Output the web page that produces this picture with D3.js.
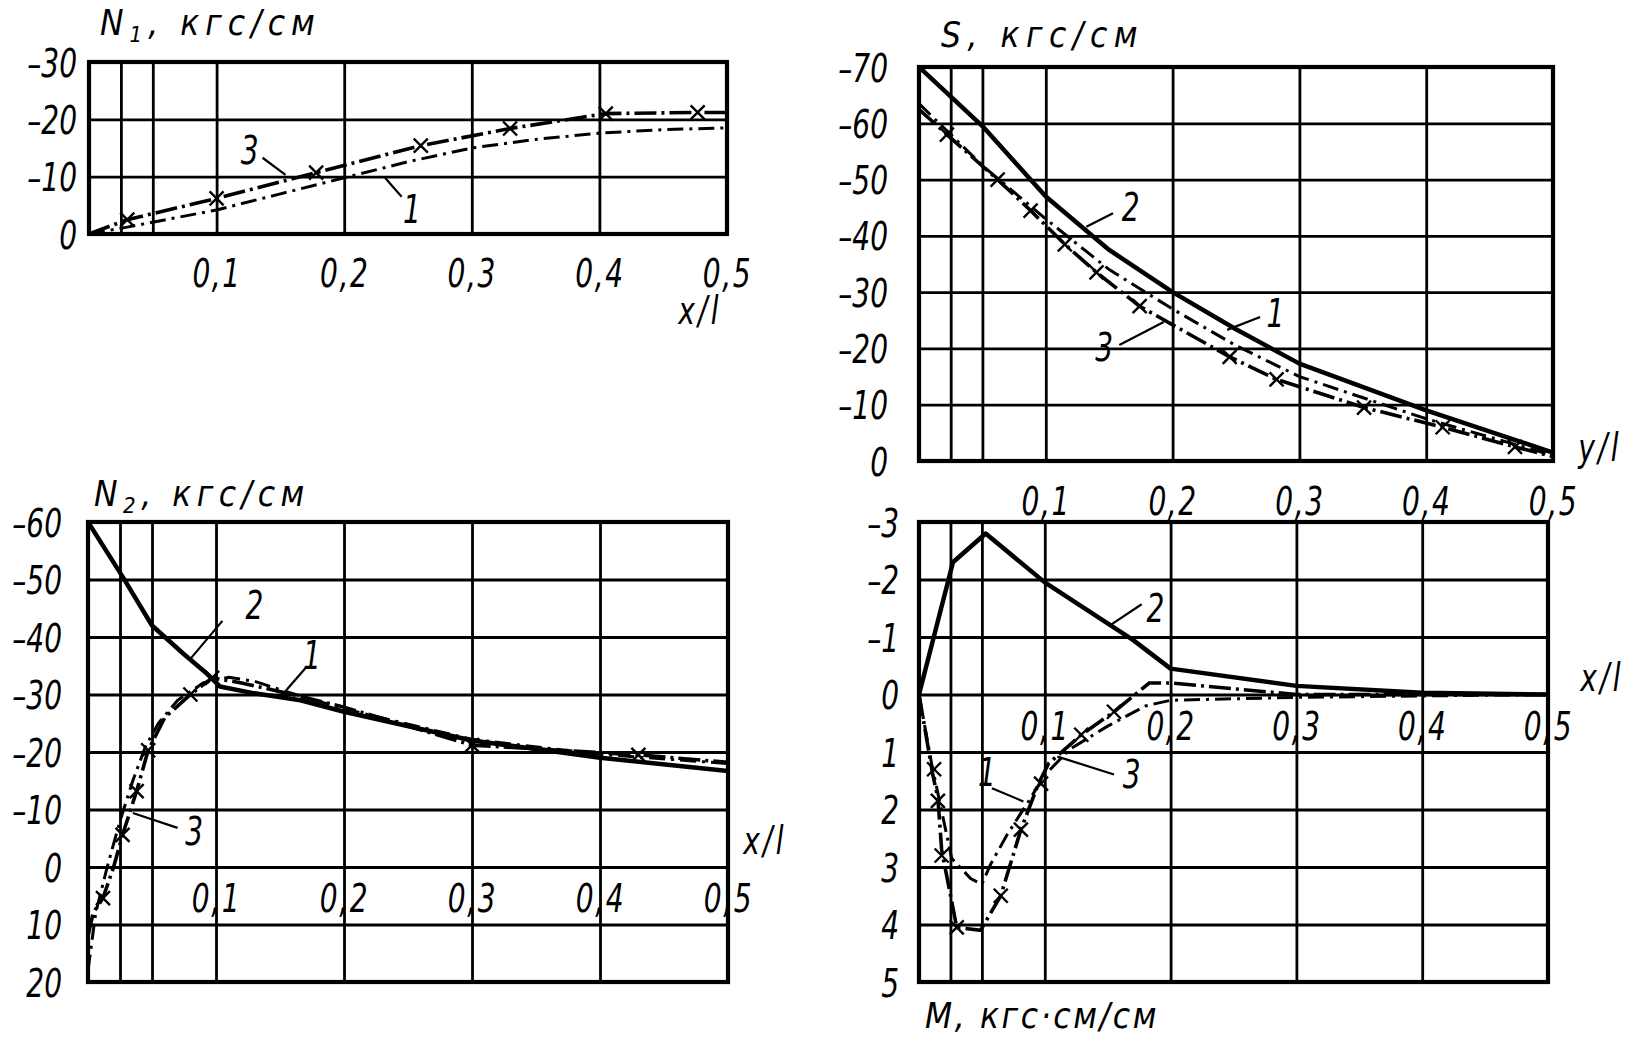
<!DOCTYPE html>
<html><head><meta charset="utf-8">
<script src="https://cdn.jsdelivr.net/npm/d3@7"></script>
<style>
body{margin:0;background:#fff}
svg{display:block}
text{font-family:"Liberation Sans Narrow","DejaVu Sans Condensed","Liberation Sans",sans-serif;font-style:italic;fill:#000}
</style>
</head><body>
<svg id="c" width="1639" height="1041"></svg>
<script>
// ---------- shared axis data ----------
const xTicks = [0.1, 0.2, 0.3, 0.4, 0.5];
const xTickLabels = ["0,1", "0,2", "0,3", "0,4", "0,5"];
const xGrid = [0, 0.025, 0.05, 0.1, 0.2, 0.3, 0.4, 0.5];

// ---------- N1 panel ----------
const n1YTicks = [-30, -20, -10, 0];
const n1YLabels = ["–30", "–20", "–10", "0"];
const n1X1 = [0, 0.03, 0.1, 0.15, 0.2, 0.25, 0.3, 0.35, 0.4, 0.45, 0.5];
const n1Y1 = [0, -1.2, -4.2, -7, -9.8, -12.6, -15, -16.5, -17.6, -18.2, -18.5];
const n1X3 = [0, 0.03, 0.1, 0.178, 0.26, 0.33, 0.405, 0.477, 0.5];
const n1Y3 = [0, -2.5, -6.2, -10.7, -15.4, -18.4, -21, -21.2, -21.2];
const n1MarkX = [0.03, 0.1, 0.178, 0.26, 0.33, 0.405, 0.477];
const n1MarkY = [-2.5, -6.2, -10.7, -15.4, -18.4, -21, -21.2];

// ---------- S panel ----------
const sYTicks = [-70, -60, -50, -40, -30, -20, -10, 0];
const sYLabels = ["–70", "–60", "–50", "–40", "–30", "–20", "–10", "0"];
const sX2 = [0, 0.05, 0.1, 0.15, 0.2, 0.25, 0.3, 0.4, 0.5];
const sY2 = [-70, -59.5, -47, -37.5, -30, -23.4, -17.3, -9, -1.5];
const sX1 = [0, 0.05, 0.1, 0.15, 0.2, 0.25, 0.3, 0.4, 0.5];
const sY1 = [-63.5, -52.5, -43, -34, -27, -20.5, -15, -7.5, -1];
const sX3 = [0, 0.022, 0.062, 0.088, 0.115, 0.14, 0.174, 0.245, 0.282, 0.351, 0.413, 0.47, 0.5];
const sY3 = [-62.5, -58, -50, -44.5, -38.5, -33.5, -27.5, -18.5, -14.5, -9.5, -6, -2.5, -0.8];
const sMarkX = [0.022, 0.062, 0.088, 0.115, 0.14, 0.174, 0.245, 0.282, 0.351, 0.413, 0.47];
const sMarkY = [-58, -50, -44.5, -38.5, -33.5, -27.5, -18.5, -14.5, -9.5, -6, -2.5];

// ---------- N2 panel ----------
const n2YTicks = [-60, -50, -40, -30, -20, -10, 0, 10, 20];
const n2YLabels = ["–60", "–50", "–40", "–30", "–20", "–10", "0", "10", "20"];
const n2X2 = [0, 0.027, 0.05, 0.075, 0.093, 0.103, 0.13, 0.166, 0.2, 0.3, 0.4, 0.5];
const n2Y2 = [-60, -50.5, -42, -37, -33.6, -31.4, -30.2, -29, -27, -22, -19, -16.7];
const n2X1 = [0, 0.006, 0.015, 0.025, 0.035, 0.045, 0.055, 0.07, 0.09, 0.11, 0.13, 0.155, 0.2, 0.3, 0.4, 0.5];
const n2Y1 = [18, 8, 0, -8, -15, -21, -25, -29, -32, -33, -32.3, -30.5, -27.5, -22.2, -19.6, -18];
const n2X3 = [0, 0.004, 0.0117, 0.02, 0.027, 0.038, 0.047, 0.06, 0.08, 0.097, 0.12, 0.16, 0.2, 0.3, 0.43, 0.5];
const n2Y3 = [12, 8, 5.4, 0, -5.6, -13.2, -20.3, -26, -30, -32.9, -32, -30, -27.8, -21.2, -19.5, -18.2];
const n2MarkX = [0.0117, 0.027, 0.038, 0.047, 0.08, 0.097, 0.3, 0.43];
const n2MarkY = [5.4, -5.6, -13.2, -20.3, -30, -32.9, -21.2, -19.5];

// ---------- M panel ----------
const mYTicks = [-3, -2, -1, 0, 1, 2, 3, 4, 5];
const mYLabels = ["–3", "–2", "–1", "0", "1", "2", "3", "4", "5"];
const mX2 = [0, 0.027, 0.053, 0.1, 0.17, 0.2, 0.3, 0.4, 0.5];
const mY2 = [0, -2.3, -2.8, -1.95, -0.95, -0.45, -0.15, -0.03, 0];
const mX1 = [0, 0.01, 0.026, 0.041, 0.05, 0.057, 0.07, 0.087, 0.1, 0.12, 0.15, 0.18, 0.2, 0.3, 0.5];
const mY1 = [0, 1.2, 2.85, 3.2, 3.3, 2.95, 2.44, 1.86, 1.4, 0.95, 0.55, 0.2, 0.1, 0.05, 0];
const mX3 = [0, 0.011, 0.015, 0.018, 0.03, 0.049, 0.065, 0.081, 0.095, 0.103, 0.129, 0.155, 0.183, 0.2, 0.3, 0.5];
const mY3 = [0, 1.4, 1.8, 2.7, 4.05, 4.1, 3.5, 2.35, 1.55, 1.2, 0.7, 0.3, -0.2, -0.2, 0, 0];
const mMarkX = [0.012, 0.015, 0.018, 0.03, 0.065, 0.081, 0.097, 0.129, 0.155];
const mMarkY = [1.3, 1.85, 2.8, 4.05, 3.5, 2.35, 1.55, 0.7, 0.3];

// ---------- curve number annotations (data units): label, text x/y, leader x1,y1,x2,y2 ----------
const n1Notes = [["3", 0.126, -14.7, 0.136, -13.3, 0.154, -10.3], ["1", 0.253, -4.3, 0.245, -6.5, 0.232, -9.8]];
const sNotes = [["2", 0.167, -45.1, 0.153, -44, 0.132, -41.6], ["1", 0.281, -26.3, 0.269, -25.6, 0.243, -23.3], ["3", 0.146, -20.2, 0.158, -20.6, 0.193, -24.7]];
const n2Notes = [["2", 0.13, -45.6, 0.105, -42.8, 0.08, -36.2], ["1", 0.175, -36.8, 0.17, -34.6, 0.155, -30.8], ["3", 0.083, -6.3, 0.07, -6.8, 0.035, -9.4]];
const mNotes = [["2", 0.188, -1.5, 0.177, -1.57, 0.153, -1.22], ["3", 0.169, 1.39, 0.155, 1.39, 0.11, 1.08], ["1", 0.054, 1.34, 0.058, 1.63, 0.083, 1.86]];

// ---------- layout ----------
const svg = d3.select("#c");
const FONT = 39;       // numbers / small labels
const TITLE_FONT = 35; // axis titles
const SX = 0.8;        // horizontal squeeze of the narrow lettering

const panels = [
  {left: 89, right: 727, top: 62, bottom: 234, yDomain: [-30, 0], yTicks: n1YTicks, yLabels: n1YLabels, yPad: 12,
   xLabelY: 252, title: ["N", "1", ", кгс/см"], titleX: 100, titleY: 35, titleLS: 6, axisName: "x/l", axisNameX: 700, axisNameY: 324,
   c1: [n1X1, n1Y1], c2: null, c3: [n1X3, n1Y3], marks: [n1MarkX, n1MarkY], notes: n1Notes},
  {left: 919, right: 1553, top: 67, bottom: 461, yDomain: [-70, 0], yTicks: sYTicks, yLabels: sYLabels, yPad: 31,
   xLabelY: 480, title: ["S", null, ", кгс/см"], titleX: 941, titleY: 47, titleLS: 6.5, axisName: "y/l", axisNameX: 1600, axisNameY: 461,
   c1: [sX1, sY1], c2: [sX2, sY2], c3: [sX3, sY3], marks: [sMarkX, sMarkY], notes: sNotes},
  {left: 88, right: 728, top: 522, bottom: 982, yDomain: [-60, 20], yTicks: n2YTicks, yLabels: n2YLabels, yPad: 26,
   xLabelY: null, title: ["N", "2", ", кгс/см"], titleX: 94, titleY: 506, titleLS: 5.5, axisName: "x/l", axisNameX: 765, axisNameY: 854,
   c1: [n2X1, n2Y1], c2: [n2X2, n2Y2], c3: [n2X3, n2Y3], marks: [n2MarkX, n2MarkY], notes: n2Notes},
  {left: 919, right: 1548, top: 522, bottom: 982, yDomain: [-3, 5], yTicks: mYTicks, yLabels: mYLabels, yPad: 20,
   xLabelY: null, title: ["M", null, ", кгс·см/см"], titleX: 925, titleY: 1028, titleLS: 2.6, axisName: "x/l", axisNameX: 1602, axisNameY: 691,
   c1: [mX1, mY1], c2: [mX2, mY2], c3: [mX3, mY3], marks: [mMarkX, mMarkY], notes: mNotes}
];

function styleText(sel, size) {
  sel.attr("font-size", size || FONT).attr("font-style", "italic")
     .attr("font-family", '"Liberation Sans Narrow","DejaVu Sans Condensed",sans-serif').attr("fill", "#000");
}
// free-standing narrow text at (px, py)
function narrowText(g, px, py, str, anchor) {
  const t = g.append("text").attr("transform", `translate(${px},${py}) scale(${SX},1)`)
    .attr("text-anchor", anchor || "middle").text(str);
  styleText(t);
  return t;
}

panels.forEach(p => {
  const g = svg.append("g");
  const x = d3.scaleLinear().domain([0, 0.5]).range([p.left, p.right]);
  const y = d3.scaleLinear().domain(p.yDomain).range([p.top, p.bottom]);
  const w = p.right - p.left, h = p.bottom - p.top;

  // vertical grid
  const gx = g.append("g").attr("transform", `translate(0,${p.bottom})`)
    .call(d3.axisBottom(x).tickValues(xGrid).tickSize(-h).tickFormat(""));
  gx.select(".domain").remove();
  gx.selectAll("line").attr("stroke", "#000").attr("stroke-width", 2.8);

  // horizontal grid + y labels
  const gy = g.append("g").attr("transform", `translate(${p.left},0)`)
    .call(d3.axisLeft(y).tickValues(p.yTicks).tickSize(-w).tickPadding(p.yPad / SX)
      .tickFormat((d, i) => p.yLabels[i]));
  gy.select(".domain").remove();
  gy.selectAll("line").attr("stroke", "#000").attr("stroke-width", 2.8);
  styleText(gy.selectAll("text"));
  gy.selectAll("text").attr("dy", "0.36em").attr("transform", `scale(${SX},1)`);

  // frame
  g.append("rect").attr("x", p.left).attr("y", p.top).attr("width", w).attr("height", h)
    .attr("fill", "none").attr("stroke", "#000").attr("stroke-width", 4.2);

  // x tick labels
  const labY = p.xLabelY !== null ? p.xLabelY : y(0) + 10;
  const xa = g.append("g").attr("transform", `translate(0,${labY})`)
    .call(d3.axisBottom(x).tickValues(xTicks).tickSize(0).tickPadding(0)
      .tickFormat((d, i) => xTickLabels[i]));
  xa.select(".domain").remove();
  styleText(xa.selectAll("text"));
  xa.selectAll("text").attr("dy", "0.9em").attr("transform", `scale(${SX},1)`).attr("letter-spacing", 2);

  // axis name
  narrowText(g, p.axisNameX, p.axisNameY, p.axisName).attr("letter-spacing", 4);

  // title
  const t = g.append("text").attr("x", p.titleX).attr("y", p.titleY).attr("letter-spacing", p.titleLS);
  styleText(t, TITLE_FONT);
  t.append("tspan").text(p.title[0]);
  if (p.title[1]) t.append("tspan").attr("font-size", 22).attr("dy", 7).text(p.title[1]);
  t.append("tspan").attr("dy", p.title[1] ? -7 : 0).text(p.title[2]);

  const line = d3.line().x(d => x(d[0])).y(d => y(d[1]));
  const clip = "clip" + p.left + "_" + p.top;
  svg.append("clipPath").attr("id", clip).append("rect")
    .attr("x", p.left).attr("y", p.top).attr("width", w).attr("height", h);
  const lg = g.append("g").attr("clip-path", `url(#${clip})`);

  if (p.c2) lg.append("path").attr("d", line(d3.zip(p.c2[0], p.c2[1])))
    .attr("fill", "none").attr("stroke", "#000").attr("stroke-width", 4.5).attr("stroke-linejoin", "round");
  lg.append("path").attr("d", line(d3.zip(p.c1[0], p.c1[1])))
    .attr("fill", "none").attr("stroke", "#000").attr("stroke-width", 3)
    .attr("stroke-dasharray", "16,6,3,6");
  lg.append("path").attr("d", line(d3.zip(p.c3[0], p.c3[1])))
    .attr("fill", "none").attr("stroke", "#000").attr("stroke-width", 3.6)
    .attr("stroke-dasharray", "22,5,3,5");

  // x markers
  const s = 7;
  d3.zip(p.marks[0], p.marks[1]).forEach(([mx, my]) => {
    const cx = x(mx), cy = y(my);
    lg.append("path").attr("d", `M${cx - s},${cy - s}L${cx + s},${cy + s}M${cx - s},${cy + s}L${cx + s},${cy - s}`)
      .attr("stroke", "#000").attr("stroke-width", 2.4);
  });

  // curve number annotations
  p.notes.forEach(n => {
    g.append("line").attr("x1", x(n[3])).attr("y1", y(n[4])).attr("x2", x(n[5])).attr("y2", y(n[6]))
      .attr("stroke", "#000").attr("stroke-width", 2.2);
    narrowText(g, x(n[1]), y(n[2]), n[0]).attr("dy", "0.36em");
  });
});
</script>
</body></html>
